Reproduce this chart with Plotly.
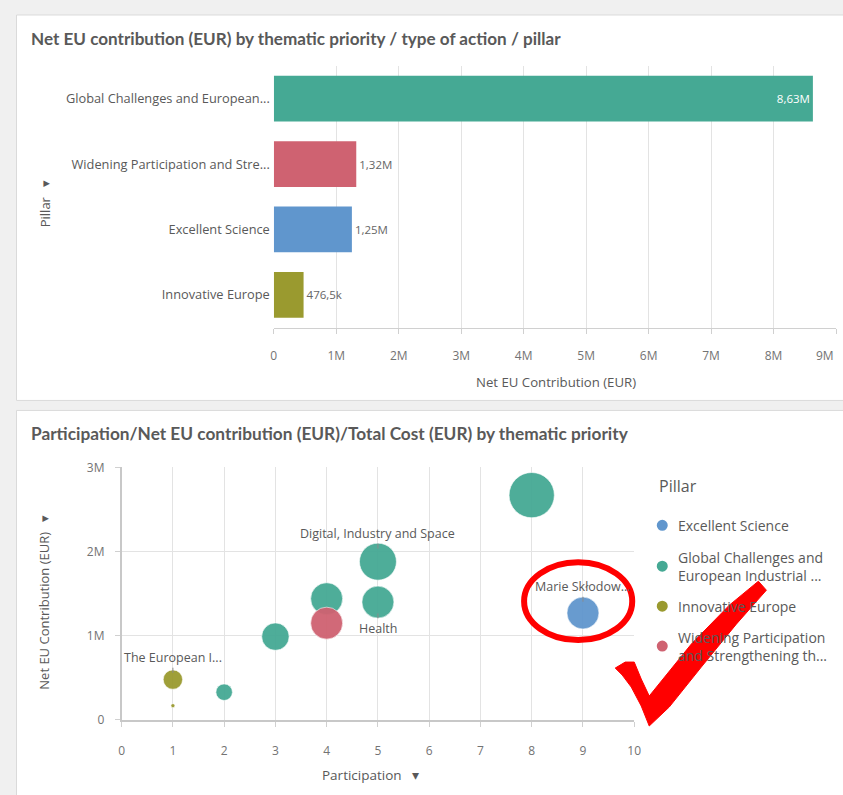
import plotly.graph_objects as go

W, H = 843, 795
# small empirical correction between requested and photographed positions
SX, OX = 0.987, 2.5
SY, OY = 0.980, 8.0

# ---------------- data ----------------
bar_pillars = ["Global Challenges and European Industrial Competitiveness",
               "Widening Participation and Strengthening the European Research Area",
               "Excellent Science", "Innovative Europe"]
bar_labels = ["Global Challenges and European...",
              "Widening Participation and Stre...",
              "Excellent Science", "Innovative Europe"]
bar_values = [8.63e6, 1.32e6, 1.25e6, 476.5e3]

x_ticks_bar = [0, 1e6, 2e6, 3e6, 4e6, 5e6, 6e6, 7e6, 8e6, 9e6]
x_ticktext_bar = ["0", "1M", "2M", "3M", "4M", "5M", "6M", "7M", "8M", "9M"]

participation = [1, 1, 2, 3, 4, 4, 5, 5, 8, 9]
net_eu = [0.48e6, 0.17e6, 0.33e6, 0.99e6, 1.44e6, 1.15e6, 1.88e6, 1.40e6, 2.67e6, 1.27e6]
total_cost = [0.55e6, 0.02e6, 0.40e6, 1.10e6, 1.50e6, 1.50e6, 2.00e6, 1.50e6, 3.00e6, 1.50e6]
point_pillar = ["Innovative Europe", "Innovative Europe", "Global Challenges",
                "Global Challenges", "Global Challenges", "Widening",
                "Global Challenges", "Global Challenges", "Global Challenges",
                "Excellent Science"]
point_label = ["The European I...", "", "", "", "", "",
               "Digital, Industry and Space", "Health", "", "Marie Skłodow..."]
label_side = [-1, 0, 0, 0, 0, 0, -1, 1, 0, -1]

x_ticks_sc = list(range(0, 11))
y_ticks_sc = [0, 1e6, 2e6, 3e6]
y_ticktext_sc = ["0", "1M", "2M", "3M"]

legend_names = ["Excellent Science", "Global Challenges", "Innovative Europe", "Widening"]
legend_texts = ["Excellent Science",
                "Global Challenges and<br>European Industrial ...",
                "Innovative Europe",
                "Widening Participation<br>and Strengthening th..."]

colors = {"Global Challenges": "#45a994", "Widening": "#cf6271",
          "Excellent Science": "#6096cd", "Innovative Europe": "#9a9a2f"}
bar_colors = ["#45a994", "#cf6271", "#6096cd", "#9a9a2f"]

# ---------------- helpers (screen pixel -> paper) ----------------
def pxu(x):
    return ((x - OX) / SX) / W

def px(x):
    return min(1.0, max(0.0, pxu(x)))

def pyu(y):
    return 1 - ((y - OY) / SY) / H

def py(y):
    return min(1.0, max(0.0, pyu(y)))

def fmt(v):
    if v >= 1e6:
        return f"{v/1e6:.2f}M".replace(".", ",")
    return f"{v/1e3:.1f}k".replace(".", ",")

TXT = "#595959"
TICK = "#737373"
GRID = "#e3e3e3"
FONT = "Open Sans"

fig = go.Figure()

# ---------------- bar chart ----------------
max_v = max(bar_values)
fig.add_trace(go.Bar(
    y=bar_pillars, x=bar_values, orientation="h",
    marker=dict(color=bar_colors, line=dict(width=0)),
    text=[fmt(v) for v in bar_values],
    textposition=["inside" if v == max_v else "outside" for v in bar_values],
    insidetextanchor="end",
    textfont=dict(size=11.5, family=FONT,
                  color=["white" if v == max_v else "#666666" for v in bar_values]),
    cliponaxis=False,
    xaxis="x", yaxis="y", showlegend=False,
))

# ---------------- scatter ----------------
sizeref = max(total_cost) / (32 ** 2)
for name in legend_names:
    idx = [i for i, p in enumerate(point_pillar) if p == name]
    fig.add_trace(go.Scatter(
        x=[participation[i] for i in idx],
        y=[net_eu[i] for i in idx],
        mode="markers",
        marker=dict(size=[total_cost[i] for i in idx], sizemode="area",
                    sizeref=sizeref, sizemin=2, color=colors[name], opacity=0.95,
                    line=dict(width=1, color="rgba(255,255,255,0.6)")),
        xaxis="x2", yaxis="y2", showlegend=False, name=name,
        cliponaxis=False,
    ))

annotations = []
for i, lab in enumerate(point_label):
    if not lab:
        continue
    r = (total_cost[i] / sizeref) ** 0.5 / 2
    annotations.append(dict(
        x=participation[i], y=net_eu[i], xref="x2", yref="y2",
        text=lab, showarrow=True, arrowhead=0, arrowwidth=1, arrowcolor="#8c8c8c",
        ax=0, ay=label_side[i] * (r + 15), standoff=r,
        font=dict(size=12.5, family=FONT, color=TXT),
    ))

def note(x, y, text, size, family=FONT, xanchor="center", angle=0, color=TXT):
    return dict(x=px(x), y=py(y), xref="paper", yref="paper", xanchor=xanchor,
                yanchor="middle", text=text, textangle=angle, showarrow=False,
                font=dict(size=size, family=family, color=color))

annotations += [
    note(28, 38, "<b>Net EU contribution (EUR) by thematic priority / type of action / pillar</b>",
         17.1, family="Lato", xanchor="left"),
    note(28, 433, "<b>Participation/Net EU contribution (EUR)/Total Cost (EUR) by thematic priority</b>",
         17.25, family="Lato", xanchor="left"),
    note(555, 382, "Net EU Contribution (EUR)", 13.2),
    note(44, 203, "Pillar   ▾", 13, angle=-90),
    note(370, 775, "Participation   ▾", 13.5),
    note(44, 602, "Net EU Contribution (EUR)   ▾", 13, angle=-90),
    note(656, 486, "Pillar", 16, xanchor="left"),
    # last bar-axis tick label sits at the right edge of the page
    dict(x=1.0, y=py(355), xref="paper", yref="paper", xanchor="right", yanchor="middle",
         text=x_ticktext_bar[-1], showarrow=False, font=dict(size=12, family=FONT, color=TICK)),
]

shapes = [
    dict(type="rect", xref="paper", yref="paper", x0=pxu(16), x1=pxu(860), y0=pyu(400), y1=pyu(14),
         fillcolor="white", line=dict(color="#dadada", width=1), layer="below"),
    dict(type="rect", xref="paper", yref="paper", x0=pxu(16), x1=pxu(860), y0=pyu(810), y1=pyu(410),
         fillcolor="white", line=dict(color="#dadada", width=1), layer="below"),
]

# legend
leg_y = [525, 566, 606, 646]
for name, txt, yy in zip(legend_names, legend_texts, leg_y):
    shapes.append(dict(type="circle", xref="paper", yref="paper",
                       xsizemode="pixel", ysizemode="pixel",
                       xanchor=px(661), yanchor=py(yy), x0=-5.5, x1=5.5, y0=-5.5, y1=5.5,
                       fillcolor=colors[name], line=dict(width=0)))
    annotations.append(dict(x=px(675), y=py(yy), xref="paper", yref="paper",
                            xanchor="left", yanchor="middle", align="left", text=txt,
                            showarrow=False,
                            font=dict(size=14, family=FONT, color=TXT)))

# red hand-drawn highlight (ellipse + check mark)
shapes.append(dict(type="circle", xref="paper", yref="paper",
                   x0=px(523), x1=px(631), y0=py(640), y1=py(562),
                   line=dict(color="#ff0000", width=6), fillcolor="rgba(0,0,0,0)"))
check = [(614, 668), (624, 662), (633, 662), (640, 679), (648, 696), (690, 644),
         (728, 605), (757, 581), (765, 590), (735, 624), (700, 667), (668, 707),
         (648, 726), (640, 706), (630, 687), (621, 675)]
path = "M " + " L ".join(f"{px(a):.5f},{py(b):.5f}" for a, b in check) + " Z"
shapes.append(dict(type="path", xref="paper", yref="paper", path=path,
                   fillcolor="#ff0000", line=dict(color="#ff0000", width=1)))

fig.update_layout(
    width=W, height=H, margin=dict(l=0, r=0, t=0, b=0),
    paper_bgcolor="#f0f0f0", plot_bgcolor="rgba(0,0,0,0)",
    font=dict(family=FONT, color=TICK),
    bargap=0.3,
    xaxis=dict(domain=[px(273), px(836)], range=[0, 9e6], anchor="y",
               tickvals=x_ticks_bar, ticktext=x_ticktext_bar[:-1] + [""],
               showgrid=True, gridcolor=GRID, zeroline=False,
               showline=True, linecolor="#d0d0d0", ticks="outside", ticklen=5,
               tickcolor="#d0d0d0", tickfont=dict(size=12, color=TICK),
               ticklabelstandoff=12, fixedrange=True),
    yaxis=dict(domain=[py(327), py(65)], anchor="x", autorange="reversed",
               tickvals=bar_pillars, ticktext=bar_labels, ticks="", ticklabelstandoff=3,
               tickfont=dict(size=12.8, color=TXT), showgrid=False, showline=False),
    xaxis2=dict(domain=[px(121), px(633)], range=[0, 10], anchor="y2",
                tickvals=x_ticks_sc, ticktext=[str(v) for v in x_ticks_sc],
                showgrid=True, gridcolor=GRID, zeroline=False,
                showline=True, linecolor="#c8c8c8", linewidth=1.5, ticks="outside", ticklen=5,
                tickcolor="#d0d0d0", tickfont=dict(size=12, color=TICK), ticklabelstandoff=14),
    yaxis2=dict(domain=[py(720), py(467)], range=[0, 3e6], anchor="x2",
                tickvals=y_ticks_sc, ticktext=y_ticktext_sc,
                showgrid=True, gridcolor=GRID, zeroline=False,
                showline=True, linecolor="#c8c8c8", linewidth=1.5, ticks="outside", ticklen=5,
                tickcolor="#d0d0d0", tickfont=dict(size=12, color=TICK), ticklabelstandoff=8),
    annotations=annotations, shapes=shapes,
)

fig.write_html("out.html")
